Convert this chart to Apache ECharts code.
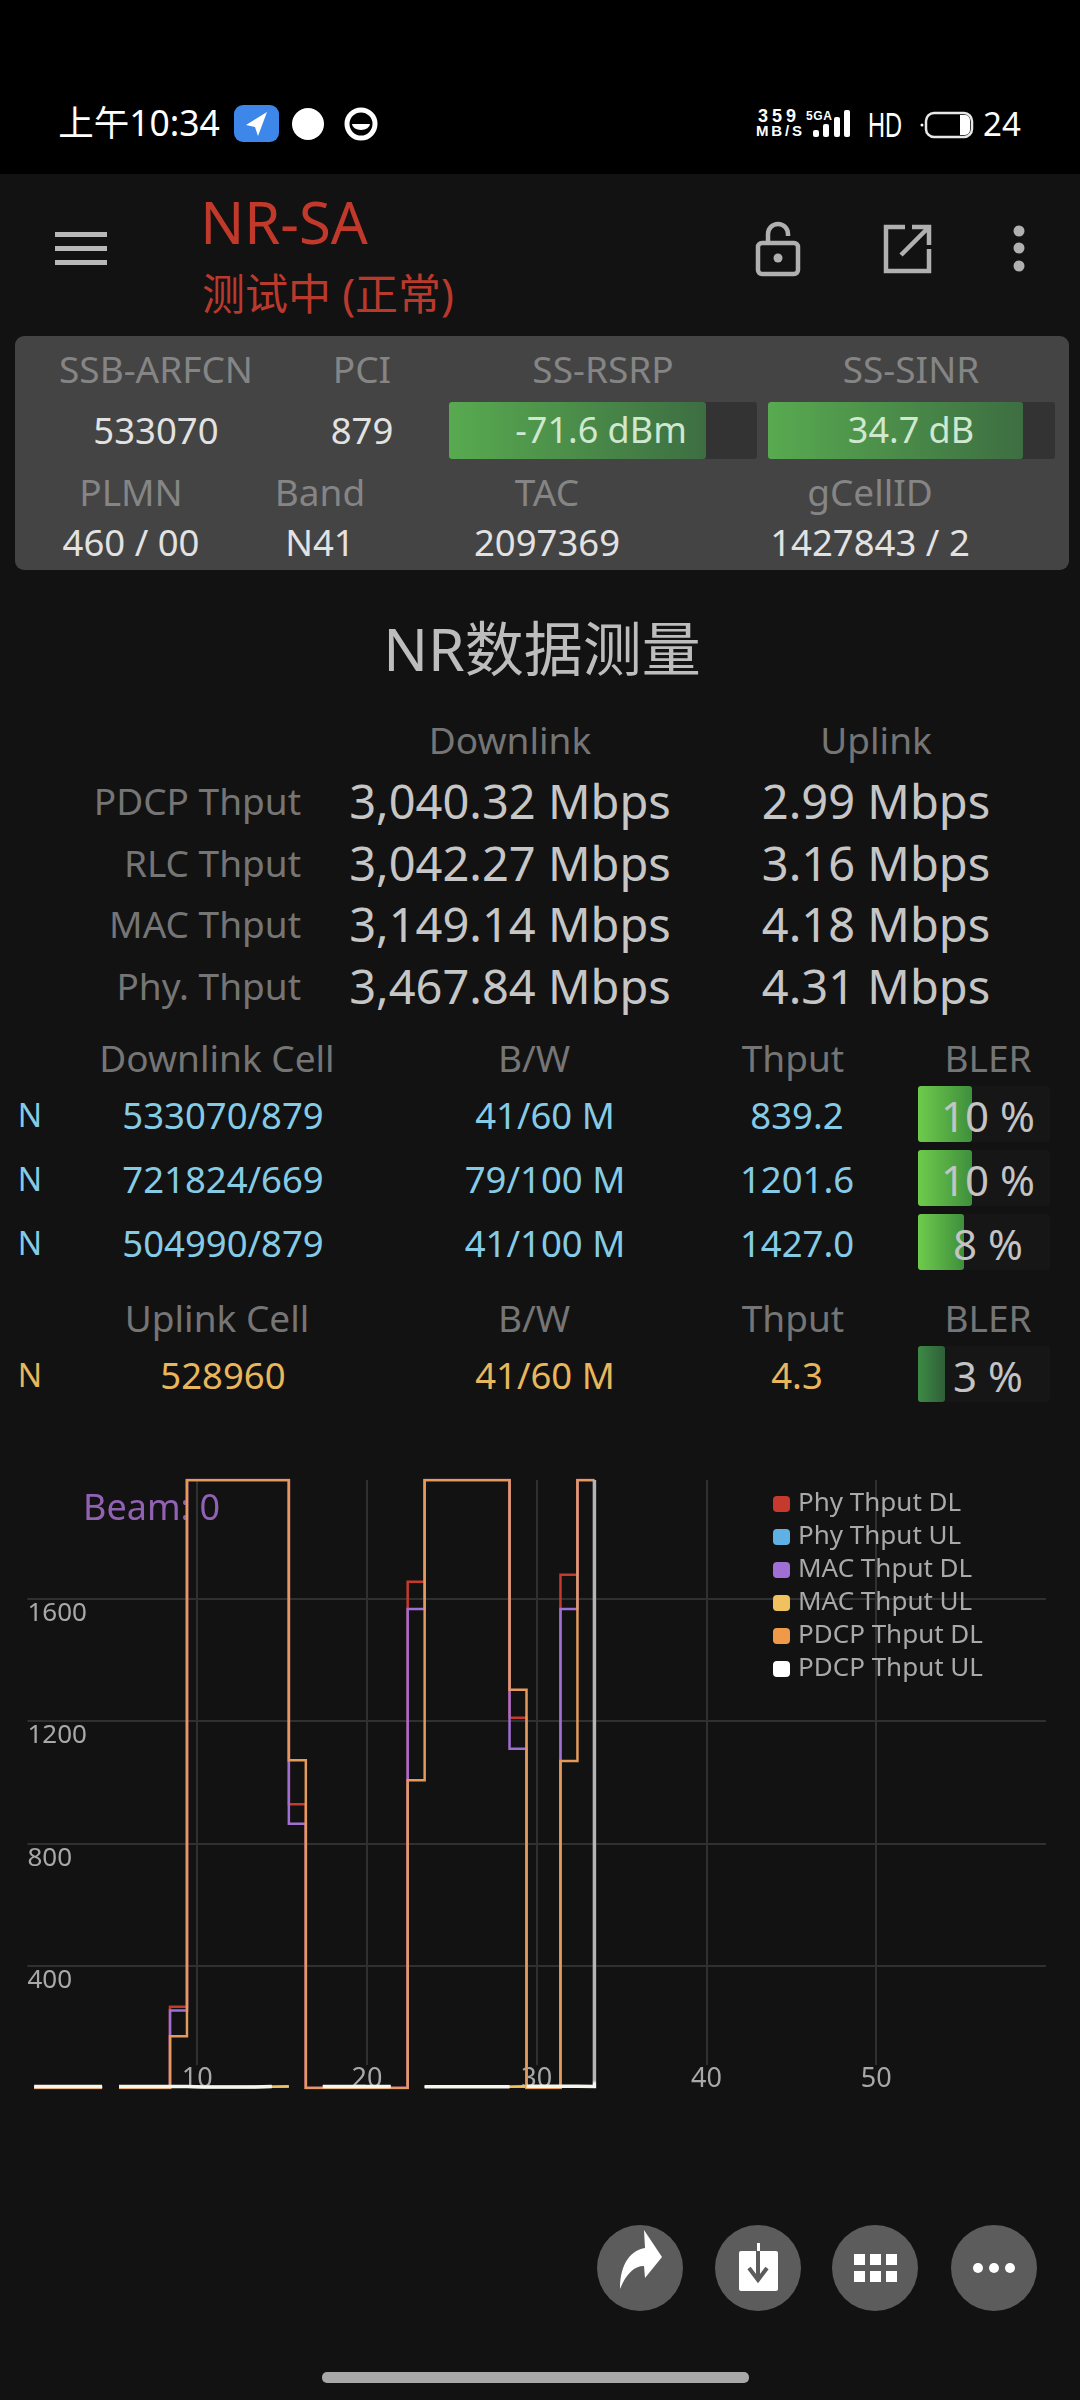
<!DOCTYPE html>
<html lang="zh">
<head>
<meta charset="utf-8">
<title>NR-SA</title>
<script src="https://cdn.jsdelivr.net/npm/echarts@6/dist/echarts.min.js"></script>
<style>
html,body{margin:0;padding:0;width:1080px;height:2400px;background:#121212;overflow:hidden;font-family:"Noto Sans","Noto Sans CJK SC",sans-serif}
#status{position:absolute;left:0;top:0;width:1080px;height:174px;background:#000}
#panel{position:absolute;left:15px;top:336px;width:1054px;height:234px;background:#444;border-radius:9px}
#chart{position:absolute;left:0;top:0;width:1080px;height:2400px}
.t{position:absolute;transform:translate(-50%,calc(-50% - 2px));white-space:nowrap;line-height:1}
.r{position:absolute;transform:translate(-100%,calc(-50% - 2px));white-space:nowrap;line-height:1}
.l{font-size:37px;color:#858585}
.v{font-size:36.5px;color:#e2e2e2}
.h{font-size:37px;color:#757575}
.m{font-size:47px;color:#c6c6c6}
.c{font-size:36.5px;color:#86cbe6;margin-top:2px}
.y{font-size:36.5px;color:#e8b75c;margin-top:2px}
.b{font-size:42px;color:#c4c4c4;margin-top:2px}
.box{position:absolute}
.circ{position:absolute;width:86px;height:86px;border-radius:50%;background:#5c5c5c;top:2225px}
svg{position:absolute;overflow:visible}
</style>
</head>
<body>
<div id="status"></div>
<div class="t" style="left:139px;top:125px;font-size:35.5px;color:#fff">上午10:34</div>
<svg style="left:0;top:0" width="1080" height="174">
  <rect x="234" y="105" width="45" height="37" rx="9" fill="#3d86ea"/>
  <path d="M267 112 L246 125 L255 127 L258 136 Z" fill="#fff"/>
  <circle cx="308" cy="124" r="16" fill="#fff"/>
  <circle cx="361" cy="124" r="14" fill="none" stroke="#fff" stroke-width="5"/>
  <path d="M352 124 a9 6 0 0 0 18 0 z" fill="#fff"/>
  <text x="758" y="122" font-size="18" font-weight="700" fill="#fff" font-family="Liberation Sans" textLength="38">359</text>
  <text x="756" y="136" font-size="15" font-weight="700" fill="#fff" font-family="Liberation Sans" textLength="46">MB/S</text>
  <text x="806" y="120" font-size="12" font-weight="700" fill="#fff" font-family="Liberation Sans" textLength="26">5GA</text>
  <rect x="813" y="130" width="6" height="7" rx="2" fill="#fff"/>
  <rect x="823" y="124" width="6" height="13" rx="2" fill="#fff"/>
  <rect x="834" y="117" width="6" height="20" rx="2" fill="#fff"/>
  <rect x="844" y="110" width="6" height="27" rx="2" fill="#fff"/>
  <text x="868" y="137" font-size="35" fill="#fff" font-family="Liberation Sans" textLength="34" lengthAdjust="spacingAndGlyphs">HD</text>
  <rect x="926" y="113" width="46" height="24" rx="8" fill="none" stroke="#e8e8e8" stroke-width="2.5"/>
  <path d="M960 115 h5 a5 5 0 0 1 5 5 v10 a5 5 0 0 1 -5 5 h-5 z" fill="#fff"/>
  <circle cx="922" cy="125" r="1.5" fill="#fff"/>
</svg>
<div class="t" style="left:1002px;top:125px;font-size:33px;color:#fff">24</div>

<svg style="left:0;top:0" width="1080" height="340">
  <rect x="55" y="232" width="52" height="5" fill="#b8b8b8"/>
  <rect x="55" y="246" width="52" height="5" fill="#b8b8b8"/>
  <rect x="55" y="260" width="52" height="5" fill="#b8b8b8"/>
  <rect x="758" y="243" width="40" height="31" rx="4" fill="none" stroke="#b0b0b0" stroke-width="4.5"/>
  <path d="M768 243 v-9 a10 10 0 0 1 20 0 v2" fill="none" stroke="#b0b0b0" stroke-width="4.5"/>
  <circle cx="778" cy="258" r="4.5" fill="#b0b0b0"/>
  <path d="M905 227 H886 V271 H929 V249" fill="none" stroke="#b0b0b0" stroke-width="4.5"/>
  <path d="M901 255 L927 229 M912 227 H929 V245" fill="none" stroke="#b0b0b0" stroke-width="4.5"/>
  <circle cx="1019" cy="231" r="5.5" fill="#b0b0b0"/>
  <circle cx="1019" cy="248" r="5.5" fill="#b0b0b0"/>
  <circle cx="1019" cy="266" r="5.5" fill="#b0b0b0"/>
</svg>
<div class="t" style="left:284px;top:224px;font-size:58px;color:#c0392b">NR-SA</div>
<div class="t" style="left:328px;top:295px;font-size:43px;color:#b93a2c">测试中 (正常)</div>

<div id="panel"></div>
<div class="t l" style="left:156px;top:370px">SSB-ARFCN</div>
<div class="t l" style="left:362px;top:370px">PCI</div>
<div class="t l" style="left:603px;top:370px">SS-RSRP</div>
<div class="t l" style="left:911px;top:370px">SS-SINR</div>
<div class="t v" style="left:156px;top:432px">533070</div>
<div class="t v" style="left:362px;top:432px">879</div>
<div class="box" style="left:449px;top:402px;width:308px;height:57px;background:#333;border-radius:3px"></div>
<div class="box" style="left:449px;top:402px;width:257px;height:57px;background:linear-gradient(90deg,#58aa50,#3d6e42);border-radius:3px"></div>
<div class="box" style="left:768px;top:402px;width:287px;height:57px;background:#333;border-radius:3px"></div>
<div class="box" style="left:768px;top:402px;width:255px;height:57px;background:linear-gradient(90deg,#58aa50,#3d6e42);border-radius:3px"></div>
<div class="t" style="left:601px;top:432px;font-size:36px;color:#cfe8cf">-71.6 dBm</div>
<div class="t" style="left:911px;top:432px;font-size:36px;color:#cfe8cf">34.7 dB</div>
<div class="t l" style="left:131px;top:493px">PLMN</div>
<div class="t l" style="left:320px;top:493px">Band</div>
<div class="t l" style="left:547px;top:493px">TAC</div>
<div class="t l" style="left:870px;top:493px">gCellID</div>
<div class="t v" style="left:131px;top:544px">460 / 00</div>
<div class="t v" style="left:320px;top:544px">N41</div>
<div class="t v" style="left:547px;top:544px">2097369</div>
<div class="t v" style="left:870px;top:544px">1427843 / 2</div>

<div class="t" style="left:542px;top:650px;font-size:59px;color:#bdbdbd">NR数据测量</div>
<div class="t h" style="left:510px;top:741px">Downlink</div>
<div class="t h" style="left:876px;top:741px">Uplink</div>
<div class="r h" style="left:301px;top:802px">PDCP Thput</div>
<div class="r h" style="left:301px;top:864px">RLC Thput</div>
<div class="r h" style="left:301px;top:925px">MAC Thput</div>
<div class="r h" style="left:301px;top:987px">Phy. Thput</div>
<div class="t m" style="left:510px;top:803px">3,040.32 Mbps</div>
<div class="t m" style="left:510px;top:865px">3,042.27 Mbps</div>
<div class="t m" style="left:510px;top:926px">3,149.14 Mbps</div>
<div class="t m" style="left:510px;top:988px">3,467.84 Mbps</div>
<div class="t m" style="left:876px;top:803px">2.99 Mbps</div>
<div class="t m" style="left:876px;top:865px">3.16 Mbps</div>
<div class="t m" style="left:876px;top:926px">4.18 Mbps</div>
<div class="t m" style="left:876px;top:988px">4.31 Mbps</div>

<div class="t h" style="left:217px;top:1059px">Downlink Cell</div>
<div class="t h" style="left:534px;top:1059px">B/W</div>
<div class="t h" style="left:793px;top:1059px">Thput</div>
<div class="t h" style="left:988px;top:1059px">BLER</div>
<div class="box" style="left:918px;top:1086px;width:132px;height:56px;background:#161616;border-radius:3px"></div>
<div class="box" style="left:918px;top:1150px;width:132px;height:56px;background:#161616;border-radius:3px"></div>
<div class="box" style="left:918px;top:1214px;width:132px;height:56px;background:#161616;border-radius:3px"></div>
<div class="box" style="left:918px;top:1346px;width:132px;height:56px;background:#161616;border-radius:3px"></div>
<div class="box" style="left:918px;top:1086px;width:54px;height:56px;background:linear-gradient(90deg,#6ecb4c,#3f8f3c);border-radius:3px"></div>
<div class="box" style="left:918px;top:1150px;width:54px;height:56px;background:linear-gradient(90deg,#6ecb4c,#3f8f3c);border-radius:3px"></div>
<div class="box" style="left:918px;top:1214px;width:46px;height:56px;background:linear-gradient(90deg,#6ecb4c,#3f8f3c);border-radius:3px"></div>
<div class="box" style="left:918px;top:1346px;width:27px;height:56px;background:linear-gradient(90deg,#3d8a45,#2f5f38);border-radius:3px"></div>
<div class="t c" style="left:30px;top:1115px;font-size:32px">N</div>
<div class="t c" style="left:30px;top:1179px;font-size:32px">N</div>
<div class="t c" style="left:30px;top:1243px;font-size:32px">N</div>
<div class="t c" style="left:223px;top:1115px">533070/879</div>
<div class="t c" style="left:223px;top:1179px">721824/669</div>
<div class="t c" style="left:223px;top:1243px">504990/879</div>
<div class="t c" style="left:545px;top:1115px">41/60 M</div>
<div class="t c" style="left:545px;top:1179px">79/100 M</div>
<div class="t c" style="left:545px;top:1243px">41/100 M</div>
<div class="t c" style="left:797px;top:1115px">839.2</div>
<div class="t c" style="left:797px;top:1179px">1201.6</div>
<div class="t c" style="left:797px;top:1243px">1427.0</div>
<div class="t b" style="left:988px;top:1116px">10 %</div>
<div class="t b" style="left:988px;top:1180px">10 %</div>
<div class="t b" style="left:988px;top:1244px">8 %</div>
<div class="t h" style="left:217px;top:1319px">Uplink Cell</div>
<div class="t h" style="left:534px;top:1319px">B/W</div>
<div class="t h" style="left:793px;top:1319px">Thput</div>
<div class="t h" style="left:988px;top:1319px">BLER</div>
<div class="t y" style="left:30px;top:1375px;font-size:32px">N</div>
<div class="t y" style="left:223px;top:1375px">528960</div>
<div class="t y" style="left:545px;top:1375px">41/60 M</div>
<div class="t y" style="left:797px;top:1375px">4.3</div>
<div class="t b" style="left:988px;top:1376px">3 %</div>

<div id="chart"></div>

<div class="circ" style="left:597px"></div>
<div class="circ" style="left:715px"></div>
<div class="circ" style="left:832px"></div>
<div class="circ" style="left:951px"></div>
<svg style="left:0;top:2200px" width="1080" height="140">
  <path d="M620 89 C620 62 632 50 645 48 L644 30 L662 57 L645 78 L644 66 C634 66 626 74 620 89 Z" fill="#fff"/>
  <rect x="739" y="51" width="39" height="40" rx="2" fill="#fff"/>
  <rect x="757" y="43" width="3" height="8" fill="#fff"/>
  <path d="M758 51 V80 M749 68 L758 80 L767 68" fill="none" stroke="#5c5c5c" stroke-width="4"/>
  <g fill="#fff">
    <rect x="854" y="54" width="11" height="11"/><rect x="870" y="54" width="11" height="11"/><rect x="886" y="54" width="11" height="11"/>
    <rect x="854" y="71" width="11" height="11"/><rect x="870" y="71" width="11" height="11"/><rect x="886" y="71" width="11" height="11"/>
    <circle cx="978" cy="68" r="5"/><circle cx="994" cy="68" r="5"/><circle cx="1010" cy="68" r="5"/>
  </g>
</svg>
<div class="box" style="left:322px;top:2372px;width:427px;height:11px;background:#a8a8a8;border-radius:5px"></div>

<script>
const sampleX = [0.4,1.4,2.4,3.4,4.4,5.4,6.4,7.4,8.4,9.4,10.4,11.4,12.4,13.4,14.4,15.4,16.4,17.4,18.4,19.4,20.4,21.4,22.4,23.4,24.4,25.4,26.4,27.4,28.4,29.4,30.4,31.4,32.4,33.4];

// Series values (Mbps); null = no line drawn for that step
const phyDL  = [0,0,0,0,null,0,0,0,266,1988,1988,1988,1988,1988,1988,928,0,0,0,0,0,0,1655,1988,1988,1988,1988,1988,1211,0,0,1678,1988,1988];
const phyUL  = [4,4,4,4,null,4,4,4,4,3,3,3,3,4,4,null,null,4,4,4,4,null,null,4,4,4,4,4,4,4,4,4,4,4];
const macDL  = [0,0,0,0,null,0,0,0,253,1988,1988,1988,1988,1988,1988,864,0,0,0,0,0,0,1566,1988,1988,1988,1988,1988,1109,0,0,1566,1988,1988];
const macUL  = [4,4,4,4,null,4,4,4,4,3,3,3,3,4,6,null,null,4,4,4,4,null,null,4,4,4,4,4,6,4,4,4,4,4];
const pdcpDL = [0,0,0,0,null,0,0,0,169,1988,1988,1988,1988,1988,1988,1072,0,0,0,0,0,0,1006,1988,1988,1988,1988,1988,1302,0,0,1069,1988,1988];
const pdcpUL = [5,5,5,5,null,5,5,5,5,3,3,3,3,5,null,null,null,5,5,5,5,null,null,4,4,4,4,4,null,6,6,6,5,1988];

const seriesNames = ['Phy Thput DL','Phy Thput UL','MAC Thput DL','MAC Thput UL','PDCP Thput DL','PDCP Thput UL'];
const seriesValues = [phyDL, phyUL, macDL, macUL, pdcpDL, pdcpUL];
const legendColors = ['#c63a2e','#5fb0e5','#a06fd3','#efc25f','#ee9a48','#ffffff'];
const yTicks = [400,800,1200,1600];
const xTicks = [10,20,30,40,50];

// The PDCP UL line runs bright along the floor and grey on its closing vertical
const pdcpUlStroke = {type:'linear',x:0,y:0,x2:0,y2:1,colorStops:[
  {offset:0,color:'#b4b4b4'},{offset:0.985,color:'#b4b4b4'},{offset:0.99,color:'#f6f6f0'},{offset:1,color:'#f6f6f0'}]};
const lineColors = ['#c63a2e','#5fb0e5','#a06fd3','#efc25f','#e39a5c',pdcpUlStroke];

// Each step holds its value up to the next sample; a null closes the line at that sample
function toSteps(values){
  const rows = [];
  values.forEach((v,i)=>{
    if(v === null){
      const prev = values[i-1];
      if(prev !== null && prev !== undefined) rows.push([sampleX[i],prev]);
      rows.push([sampleX[i],null]);
    } else rows.push([sampleX[i],v]);
  });
  return rows;
}

const chart = echarts.init(document.getElementById('chart'),null,{renderer:'canvas',width:1080,height:2400});
const FONT = '"Noto Sans","Noto Sans CJK SC",sans-serif';
chart.setOption({
  animation:false,
  backgroundColor:'transparent',
  textStyle:{fontFamily:FONT},
  grid:{left:27.4,right:34,top:1480,bottom:312,containLabel:false},
  graphic:{elements:[{type:'text',left:83,top:1492,z:1,style:{text:'Beam: 0',fill:'#9162b4',font:'36px '+FONT}}]},
  legend:{
    left:773,top:1491,orient:'vertical',padding:0,itemWidth:17,itemHeight:16,itemGap:7,
    icon:'roundRect',selectedMode:false,
    data:seriesNames,
    textStyle:{color:'#a9a9a9',fontSize:26,padding:[0,0,0,3]}
  },
  xAxis:{
    type:'value',min:0,max:60,interval:10,
    axisLine:{show:false},axisTick:{show:false},
    splitLine:{show:true,showMinLine:false,showMaxLine:false,lineStyle:{color:'#303030',width:2}},
    axisLabel:{inside:true,margin:-5,showMinLabel:false,showMaxLabel:false,color:'#a8a8a8',fontSize:27,
      backgroundColor:'#121212',padding:[1,2,0,2],
      formatter:v=>xTicks.includes(v)?String(v):''}
  },
  yAxis:{
    type:'value',min:0,max:1988,interval:400,
    axisLine:{show:false},axisTick:{show:false},
    splitLine:{show:true,showMinLine:false,showMaxLine:false,lineStyle:{color:'#303030',width:2}},
    axisLabel:{inside:true,margin:0,showMinLabel:false,showMaxLabel:false,color:'#a8a8a8',fontSize:26,verticalAlign:'top',padding:[2,0,0,0],
      formatter:v=>yTicks.includes(v)?String(v):''}
  },
  series:seriesNames.map((name,i)=>({
    name,type:'line',step:'end',showSymbol:false,connectNulls:false,clip:true,
    data:toSteps(seriesValues[i]),
    itemStyle:{color:legendColors[i]},
    lineStyle:{color:lineColors[i],width:i===5?3.5:2.5,join:'miter'},
    emphasis:{disabled:true}
  }))
});
</script>
</body>
</html>
